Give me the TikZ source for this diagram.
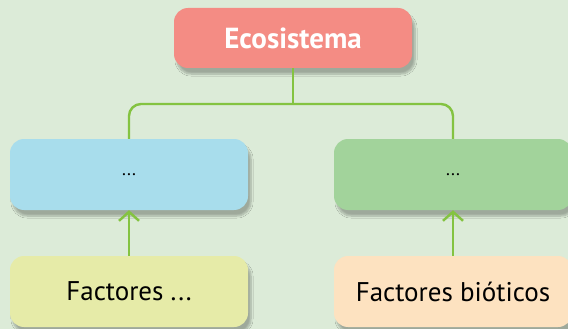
\documentclass[tikz,border=0pt]{standalone}
\usepackage{fontspec}
\setmainfont{PT Sans}
\usetikzlibrary{arrows.meta,shadows.blur}

\definecolor{bgcol}{RGB}{220,235,216}
\definecolor{ecocol}{RGB}{244,140,132}
\definecolor{abiocol}{RGB}{168,221,236}
\definecolor{biocol}{RGB}{162,211,155}
\definecolor{factacol}{RGB}{230,235,168}
\definecolor{factbcol}{RGB}{253,226,192}
\definecolor{linkcol}{RGB}{132,195,65}

\tikzset{
  box/.style={rounded corners=14pt, minimum width=238pt, minimum height=71pt,
    inner sep=0pt, font=\fontsize{27}{30}\selectfont,
    blur shadow={shadow xshift=3pt, shadow yshift=-6pt, shadow blur steps=8, shadow opacity=28}},
  link/.style={draw=linkcol, line width=2.4pt},
  >={Straight Barb[length=9pt, width=20pt, line width=2.4pt]}
}

\begin{document}
\begin{tikzpicture}[x=1pt, y=-1pt, line join=round]
    \clip (0,0) rectangle (568,329);
    \fill[bgcol] (0,0) rectangle (568,329);

    % top and the two groups
    \node[box, fill=ecocol, minimum height=60pt, text=white, font=\fontsize{29}{32}\selectfont\bfseries] (eco) at (293,38) {Ecosistema};
    \node[box, fill=abiocol, font=\fontsize{18}{20}\selectfont] (abio) at (129,174.5) {...};
    \node[box, fill=biocol, font=\fontsize{18}{20}\selectfont] (bio) at (453,174.5) {...};

    % factors underneath
    \node[box, fill=factacol] (facta) at (129,291.5) {Factores ...};
    \node[box, fill=factbcol] (factb) at (453,291.5) {Factores bióticos};

    \coordinate (fork) at (293,104);
    \draw[link] (eco.south) -- (fork);
    \draw[link, rounded corners=12pt] (fork) -| (abio.north);
    \draw[link, rounded corners=12pt] (fork) -| (bio.north);

    \draw[link,->] (facta.north) -- (abio.south);
    \draw[link,->] (factb.north) -- (bio.south);
\end{tikzpicture}
\end{document}
